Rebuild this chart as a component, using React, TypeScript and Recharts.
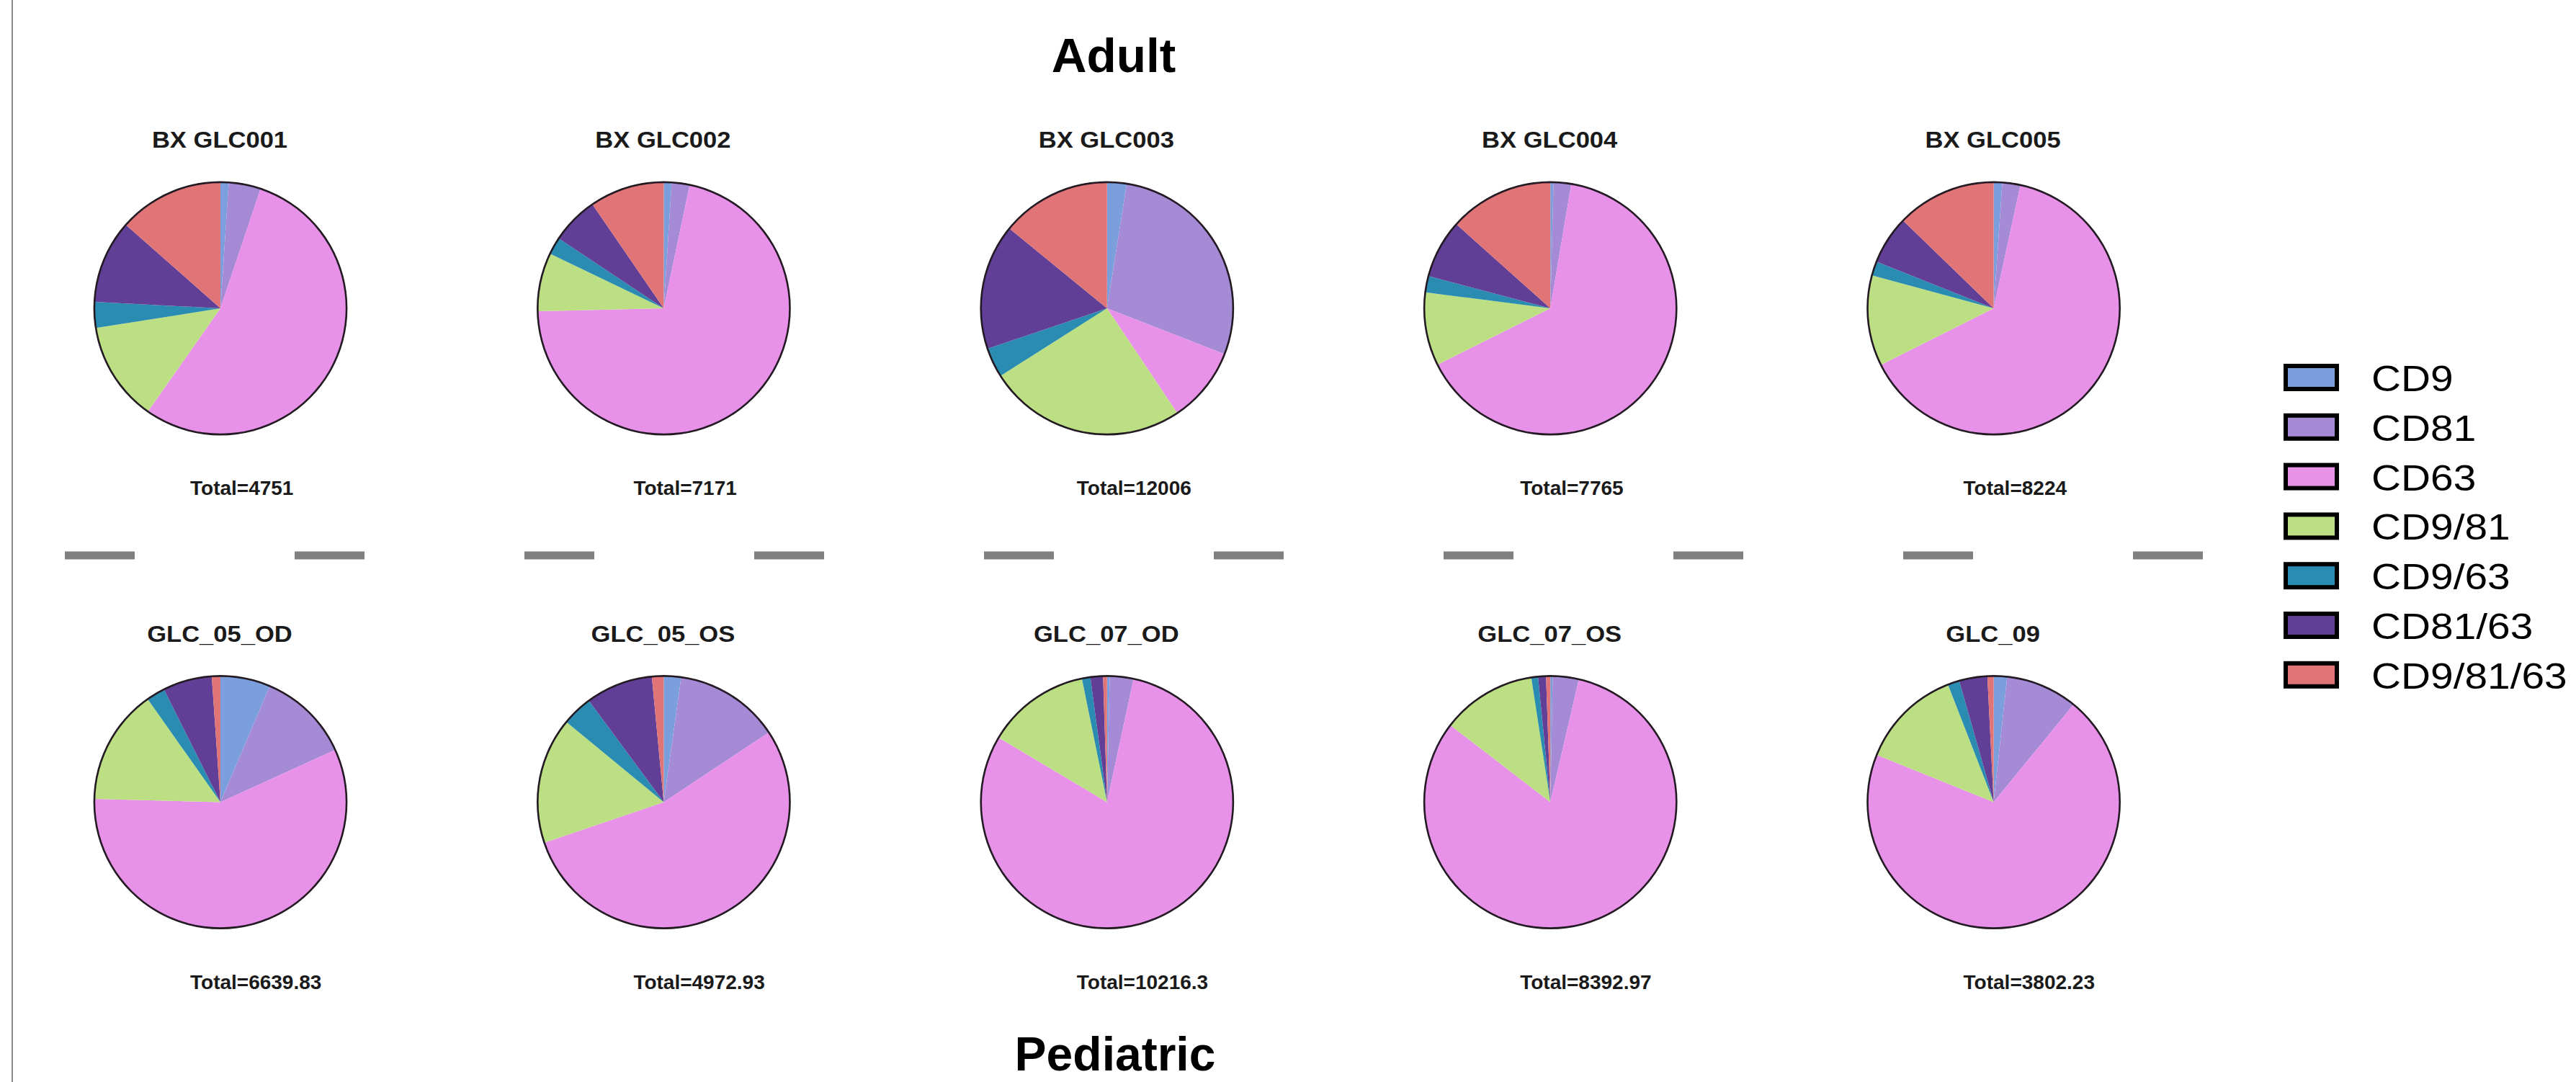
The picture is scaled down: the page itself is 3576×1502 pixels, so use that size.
import React from 'react';
import { PieChart, Pie, Cell } from 'recharts';

const WIDTH = 3576;
const HEIGHT = 1502;

// Marker combinations, in the clockwise order the slices are drawn from 12 o'clock
const CATEGORIES = ['CD9', 'CD81', 'CD63', 'CD9/81', 'CD9/63', 'CD81/63', 'CD9/81/63'];
const COLORS = ['#7b9fdc', '#a58ad5', '#e891e8', '#bbdf82', '#2b8cb1', '#613f97', '#e07476'];

// Adult samples (counts)
const ADULT_NAMES = ['BX GLC001', 'BX GLC002', 'BX GLC003', 'BX GLC004', 'BX GLC005'];
const ADULT_TOTALS = ['4751', '7171', '12006', '7765', '8224'];
const BX_GLC001 = [50, 195, 2594, 606, 157, 508, 641];
const BX_GLC002 = [72, 165, 5115, 538, 158, 437, 686];
const BX_GLC003 = [300, 3410, 1165, 3050, 456, 1933, 1692];
const BX_GLC004 = [31, 175, 5045, 730, 163, 582, 1039];
const BX_GLC005 = [90, 190, 5280, 955, 150, 510, 1049];

// Pediatric samples
const PED_NAMES = ['GLC_05_OD', 'GLC_05_OS', 'GLC_07_OD', 'GLC_07_OS', 'GLC_09'];
const PED_TOTALS = ['6639.83', '4972.93', '10216.3', '8392.97', '3802.23'];
const GLC_05_OD = [425, 784, 3798, 983, 159, 418, 72.83];
const GLC_05_OS = [110, 670, 2690, 805, 195, 428, 74.93];
const GLC_07_OD = [35, 310, 8190, 1355, 110, 165, 51.3];
const GLC_07_OS = [25, 280, 6865, 1020, 72, 85, 45.97];
const GLC_09 = [65, 350, 2669, 494, 57, 137, 30.23];

const ROWS = [
  { names: ADULT_NAMES, totals: ADULT_TOTALS, values: [BX_GLC001, BX_GLC002, BX_GLC003, BX_GLC004, BX_GLC005] },
  { names: PED_NAMES, totals: PED_TOTALS, values: [GLC_05_OD, GLC_05_OS, GLC_07_OD, GLC_07_OS, GLC_09] },
];

// layout
const PIE_X0 = 306;
const PIE_DX = 615.4;
const ROW_CY = [428, 1113.5];
const RADIUS = 175;
const FONT = '"Liberation Sans", Arial, Helvetica, sans-serif';

export default function App() {
  const pies = ROWS.flatMap((row, r) =>
    row.values.map((vals, i) => ({
      key: `${r}-${i}`,
      row: r,
      cx: PIE_X0 + i * PIE_DX,
      cy: ROW_CY[r],
      data: CATEGORIES.map((name, k) => ({ name, value: vals[k] })),
      name: row.names[i],
      total: row.totals[i],
    }))
  );

  return (
    <div
      style={{
        position: 'absolute',
        left: 0,
        top: 0,
        width: WIDTH,
        height: HEIGHT,
        background: '#ffffff',
        overflow: 'hidden',
      }}
    >
      <PieChart width={WIDTH} height={HEIGHT} margin={{ top: 0, right: 0, bottom: 0, left: 0 }}>
        {pies.map((p) => (
          <Pie
            key={`pie-${p.key}`}
            data={p.data}
            dataKey="value"
            nameKey="name"
            cx={p.cx}
            cy={p.cy}
            outerRadius={RADIUS}
            startAngle={90}
            endAngle={-270}
            stroke="none"
            isAnimationActive={false}
          >
            {p.data.map((d, k) => (
              <Cell key={d.name} fill={COLORS[k]} />
            ))}
          </Pie>
        ))}
        {/* thin dark rim around each pie */}
        {pies.map((p) => (
          <Pie
            key={`rim-${p.key}`}
            data={[{ name: 'rim', value: 1 }]}
            dataKey="value"
            cx={p.cx}
            cy={p.cy}
            innerRadius={RADIUS - 1.2}
            outerRadius={RADIUS + 1.4}
            startAngle={90}
            endAngle={-270}
            fill="#231a24"
            stroke="none"
            isAnimationActive={false}
          />
        ))}
      </PieChart>

      <svg
        width={WIDTH}
        height={HEIGHT}
        style={{ position: 'absolute', left: 0, top: 0, pointerEvents: 'none' }}
        fontFamily={FONT}
      >
        {/* left frame line */}
        <line x1={17} y1={0} x2={17} y2={HEIGHT} stroke="#8a8a8a" strokeWidth={2} />

        {/* section headings */}
        <text x={1546} y={100} textAnchor="middle" fontSize={67.5} fontWeight="bold" fill="#000">
          Adult
        </text>
        <text x={1548} y={1486} textAnchor="middle" fontSize={66} fontWeight="bold" fill="#000">
          Pediatric
        </text>

        {/* dashed separator between the two rows */}
        <line
          x1={90}
          y1={771}
          x2={3062}
          y2={771}
          stroke="#808080"
          strokeWidth={11}
          strokeDasharray="97 222"
        />

        {pies.map((p) => {
          const titleY = p.row === 0 ? 205 : 891;
          const totalY = p.row === 0 ? 687 : 1373;
          return (
            <g key={`txt-${p.key}`}>
              <text
                transform={`translate(${p.cx - 1}, ${titleY}) scale(1.08, 1)`}
                textAnchor="middle"
                fontSize={32}
                fontWeight="bold"
                fill="#1a1a1a"
              >
                {p.name}
              </text>
              <text x={p.cx - 42} y={totalY} fontSize={28} fontWeight="bold" fill="#1a1a1a">
                {`Total=${p.total}`}
              </text>
            </g>
          );
        })}

        {/* legend */}
        {CATEGORIES.map((c, i) => {
          const top = 505 + i * 68.8;
          return (
            <g key={`leg-${c}`}>
              <rect x={3173} y={top + 3} width={71} height={32} fill={COLORS[i]} stroke="#000" strokeWidth={6} />
              <text
                transform={`translate(3292, ${top + 38}) scale(1.16, 1)`}
                fontSize={49}
                fill="#000"
              >
                {c}
              </text>
            </g>
          );
        })}
      </svg>
    </div>
  );
}
